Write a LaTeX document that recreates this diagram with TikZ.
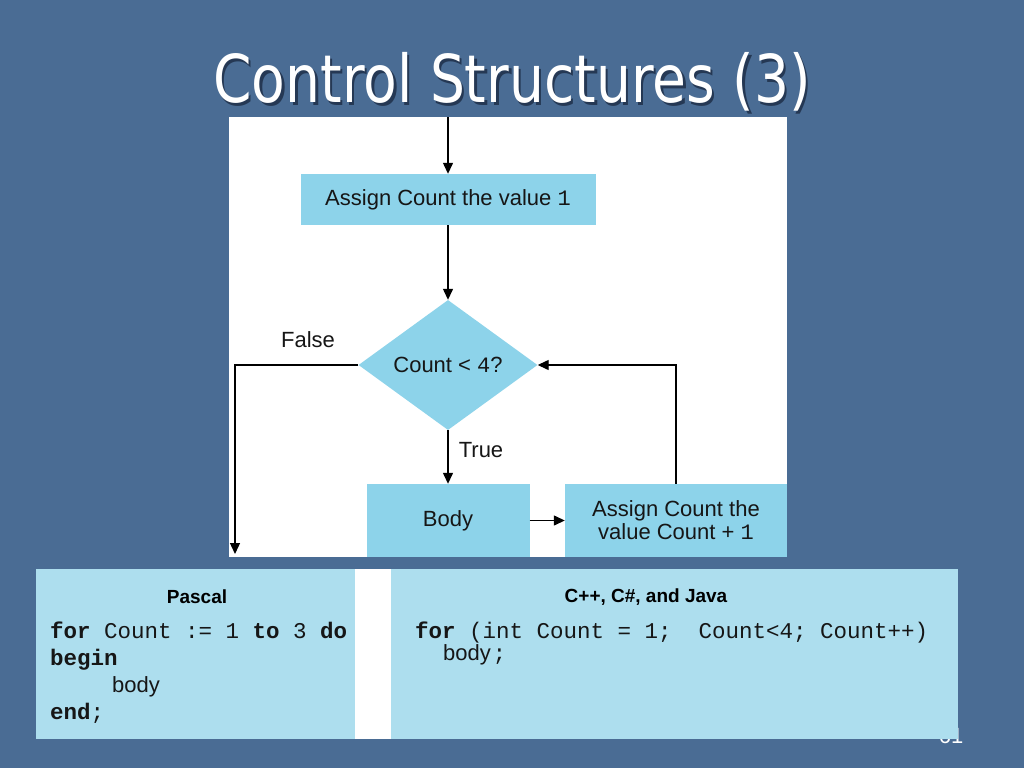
\documentclass[tikz,border=0pt]{standalone}
\usepackage{fontspec}
\setmainfont{Liberation Sans}
\setmonofont{Liberation Mono}
\newfontfamily\titlefont{DejaVu Sans}
\usetikzlibrary{arrows.meta,shapes.geometric}
\definecolor{bgblue}{HTML}{4A6C94}
\definecolor{boxcyan}{HTML}{8DD3EA}
\definecolor{panelcyan}{HTML}{ADDEEE}
\definecolor{ink}{HTML}{161616}
\definecolor{shadowblue}{HTML}{1C2C44}
\begin{document}
\begin{tikzpicture}[x=1pt,y=-1pt,
  flowbox/.style={fill=boxcyan,draw=none,inner sep=0pt,text=ink,font=\fontsize{22}{24}\selectfont},
  lbl/.style={text=ink,font=\fontsize{22}{24}\selectfont,inner sep=0pt},
  conn/.style={draw=black,line width=1.3pt,-{Triangle[length=11pt,width=10pt]}},
  head/.style={text=black,font=\bfseries\fontsize{19}{21}\selectfont,inner sep=0pt},
  code/.style={text=ink,font=\ttfamily\fontsize{22.5}{24}\selectfont,inner sep=0pt,anchor=base west},
  titletext/.style={font=\titlefont\fontsize{66}{70}\selectfont,inner sep=0pt}
]
% background
\fill[bgblue] (0,0) rectangle (1024,768);
\useasboundingbox (0,0) rectangle (1024,768);
% page number (mostly hidden)
\node[text=white,font=\fontsize{22}{24}\selectfont,inner sep=0pt,anchor=base] (pagenum) at (951,743) {61};
% title
\node[titletext,text=shadowblue,opacity=0.8] (titleshadow) at (514.5,84.5) {\scalebox{0.835}[1]{Control Structures (3)}};
\node[titletext,text=white] (title) at (512,82) {\scalebox{0.835}[1]{Control Structures (3)}};
% flowchart panel
\fill[white] (229,117) rectangle (787,557);
\coordinate (topin) at (448,117);
\node[flowbox,minimum width=295pt,minimum height=51pt] (assign1) at (448,199.5)
  {Assign Count the value \texttt{1}};
\node[shape=diamond,fill=boxcyan,inner sep=0pt,minimum width=179pt,minimum height=130pt,aspect=1.377,text=ink,font=\fontsize{22}{24}\selectfont] (dec) at (448,365)
  {Count < \texttt{4}?};
\node[flowbox,minimum width=163pt,minimum height=73pt] (body) at (448,520.5) {Body};
\node[flowbox,minimum width=222pt,minimum height=73pt,align=center,font=\fontsize{22}{23}\selectfont] (incr) at (676,520.5)
  {Assign Count the\\value Count + \texttt{1}};
\node[lbl] (falselbl) at (308,340) {False};
\node[lbl] (truelbl) at (481,450) {True};
\coordinate (fend) at (235,554);
\draw[conn] (topin) -- (assign1.north);
\draw[conn] (assign1.south) -- (dec.north);
\draw[conn] (dec.south) -- (body.north);
\draw[conn] (body.east) -- (incr.west);
\draw[conn] (incr.north) |- (dec.east);
\draw[conn] (dec.west) -| (fend);
% code panels
\fill[panelcyan] (36,569) rectangle (355,739);
\fill[white] (355,569) rectangle (391,739);
\fill[panelcyan] (391,569) rectangle (958,739);
\node[head] (pascalhead) at (197,597) {Pascal};
\node[head] (chead) at (646,597) {C++, C\#, and Java};
\node[code] (p1) at (50,638) {\textbf{for} Count := 1 \textbf{to} 3 \textbf{do}};
\node[code] (p2) at (50,665) {\textbf{begin}};
\node[code,font=\fontsize{22}{24}\selectfont] (p3) at (112,692) {body};
\node[code] (p4) at (50,719) {\textbf{end};};
\node[code] (c1) at (415,638) {\textbf{for} (int Count = 1;\ \ Count<4; Count++)};
\node[code,font=\fontsize{22}{24}\selectfont] (c2) at (443,660) {body\hspace{2pt}\texttt{;}};
\end{tikzpicture}
\end{document}
